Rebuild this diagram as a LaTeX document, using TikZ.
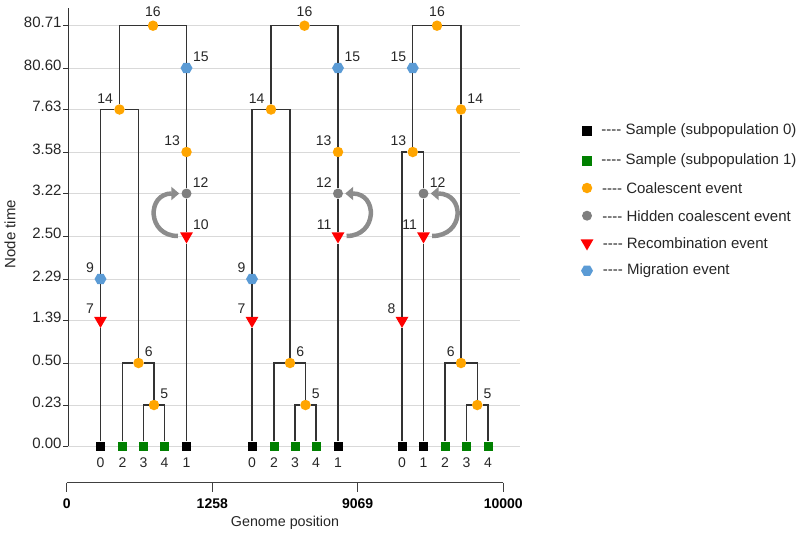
\documentclass[tikz,border=0pt]{standalone}
\usepackage{fontspec}
\setmainfont{Liberation Sans}
\usetikzlibrary{positioning,shapes.geometric,arrows.meta}
\definecolor{coalor}{HTML}{FFA500}
\definecolor{migbl}{HTML}{5B9BD5}
\definecolor{hidgr}{HTML}{7F7F7F}
\definecolor{sampgr}{HTML}{008000}
\definecolor{gridgr}{HTML}{D9D9D9}
\definecolor{arrgr}{HTML}{8C8C8C}
% tree of the first two intervals: prefix, recombination id, its label side, side of label 12
\newcommand{\ltree}[4]{%
\node[samp0, leaf=0] (#1l0) at (100.5,446) {};
\node[samp1, leaf=2] (#1l2) at (122.5,446) {};
\node[samp1, leaf=3] (#1l3) at (143.5,446) {};
\node[samp1, leaf=4] (#1l4) at (164.5,446) {};
\node[samp0, leaf=1] (#1l1) at (186.5,446) {};
\node[coal, tag={above right:5}] (#1n5) at (154,405) {};
\node[coal, tag={above right:6}] (#1n6) at (138.5,363) {};
\node[recomb, tag={above left:7}] (#1n7) at (100.5,320.5) {};
\node[migr, tag={above left:9}] (#1n9) at (100.5,279) {};
\node[recomb, tag={#3:#2}] (#1nr) at (186.5,236) {};
\node[hid, tag={#4:12}] (#1n12) at (186.5,193.5) {};
\node[coal, tag={above left:13}] (#1n13) at (186.5,152) {};
\node[coal, tag={above left:14}] (#1n14) at (119.5,109.5) {};
\node[migr, tag={above right:15}] (#1n15) at (186.5,68) {};
\node[coal, tag={above:16}] (#1n16) at (153,25.7) {};
\draw[edge] (#1l0) -- (#1n7) -- (#1n9) |- (#1n14);
\draw[edge] (#1l2) |- (#1n6);
\draw[edge] (#1l3) |- (#1n5);
\draw[edge] (#1l4) |- (#1n5);
\draw[edge] (#1n5) |- (#1n6);
\draw[edge] (#1n6) |- (#1n14);
\draw[edge] (#1l1) -- (#1nr) -- (#1n12) -- (#1n13) -- (#1n15) |- (#1n16);
\draw[edge] (#1n14) |- (#1n16);
}

\begin{document}
\begin{tikzpicture}[x=1pt, y=-1pt,
  edge/.style={draw=black!80, line width=1.25pt},
  grid/.style={draw=gridgr, line width=0.9pt},
  yaxis/.style={draw=black!80, line width=1pt},
  gaxis/.style={draw=black!75, line width=1.4pt},
  coal/.style={circle, fill=coalor, minimum size=10.5pt, inner sep=0pt},
  hid/.style={circle, fill=hidgr, minimum size=10pt, inner sep=0pt},
  migr/.style={regular polygon, regular polygon sides=6, fill=migbl, minimum size=12pt, inner sep=0pt},
  recomb/.style={regular polygon, regular polygon sides=3, shape border rotate=180, fill=red, minimum size=15pt, inner sep=0pt},
  samp0/.style={rectangle, fill=black, minimum size=9pt, inner sep=0pt},
  samp1/.style={rectangle, fill=sampgr, minimum size=9pt, inner sep=0pt},
  lbl/.style={font=\fontsize{14}{16}\selectfont, inner sep=1pt, text=black!85},
  tag/.style={label={[lbl, label distance=2pt]#1}},
  leaf/.style={label={[lbl, label distance=5.5pt]below:#1}},
  ticklbl/.style={font=\fontsize{15}{18}\selectfont, inner sep=1pt, text=black!85},
  legtxt/.style={font=\fontsize{15}{18}\selectfont, inner sep=1pt, text=black!85, anchor=west},
  hidarr/.style={draw=arrgr, line width=4.5pt, -{Triangle[width=13pt,length=8pt]}, shorten <=4pt, shorten >=2pt}]
\useasboundingbox (0,0) rectangle (800,536);

% time grid
\foreach \y/\t [count=\i] in {446/0.00, 405/0.23, 363/0.50, 320.5/1.39, 279/2.29, 236/2.50, 193.5/3.22, 152/3.58, 109.5/7.63, 68/80.60, 25.7/80.71} {
  \draw[grid] (68,\y) -- (520,\y);
  \draw[yaxis] (63,\y) -- (68,\y);
  \node[ticklbl, anchor=east] (ylab\i) at (62.7,\y-3) {\t};
}
\draw[yaxis] (68,8) -- (68,446);
\node[ticklbl, rotate=90] (ytitle) at (10,234) {Node time};

% trees 1 and 2
\ltree{a}{10}{above right}{above right}
\begin{scope}[xshift=151.5pt]
\ltree{b}{11}{above left}{above left}
\end{scope}

% tree 3
\node[samp0, leaf=0] (cl0) at (402,446) {};
\node[samp0, leaf=1] (cl1) at (423.5,446) {};
\node[samp1, leaf=2] (cl2) at (445,446) {};
\node[samp1, leaf=3] (cl3) at (466.5,446) {};
\node[samp1, leaf=4] (cl4) at (488,446) {};
\node[coal, tag={above right:5}] (cn5) at (477.25,405) {};
\node[coal, tag={above left:6}] (cn6) at (461,363) {};
\node[recomb, tag={above left:8}] (cn8) at (402,320.5) {};
\node[recomb, tag={above left:11}] (cnr) at (423.5,236) {};
\node[hid, tag={above right:12}] (cn12) at (423.5,193.5) {};
\node[coal, tag={above left:13}] (cn13) at (412.75,152) {};
\node[coal, tag={above right:14}] (cn14) at (461,109.5) {};
\node[migr, tag={above left:15}] (cn15) at (412.75,68) {};
\node[coal, tag={above:16}] (cn16) at (437,25.7) {};
\draw[edge] (cl0) -- (cn8) |- (cn13);
\draw[edge] (cl1) -- (cnr) -- (cn12) |- (cn13);
\draw[edge] (cn13) -- (cn15) |- (cn16);
\draw[edge] (cl2) |- (cn6);
\draw[edge] (cl3) |- (cn5);
\draw[edge] (cl4) |- (cn5);
\draw[edge] (cn5) |- (cn6);
\draw[edge] (cn6) -- (cn14) |- (cn16);

% hidden coalescence arrows
\draw[hidarr] (anr.west) to[out=180, in=180, looseness=2.1] (an12.west);
\draw[hidarr] (bnr.east) to[out=0, in=0, looseness=2.1] (bn12.east);
\draw[hidarr] (cnr.east) to[out=0, in=0, looseness=2.2] (cn12.east);

% genome axis
\coordinate (g0) at (66.7,482.7);
\coordinate (g1) at (212.3,482.7);
\coordinate (g2) at (357.7,482.7);
\coordinate (g3) at (503.3,482.7);
\draw[gaxis] (g0) -- (g3);
\foreach \c/\t in {g0/0, g1/1258, g2/9069, g3/10000}
  \draw[gaxis] (\c) -- ++(0,9) node[below=5pt, inner sep=1pt, font=\fontsize{14}{16}\selectfont\bfseries] (t\c) {\t};
\node[ticklbl, font=\fontsize{14.3}{17}\selectfont] (gtitle) at (285,523) {Genome position};

% legend
\node[samp0, minimum size=10pt] (k0) at (587,131) {};
\node[samp1, minimum size=10pt] (k1) at (587,160.7) {};
\node[coal] (k2) at (587,188) {};
\node[hid] (k3) at (587,215.7) {};
\node[recomb] (k4) at (587,243) {};
\node[migr] (k5) at (587,270.7) {};
\node[legtxt, right=8pt of k0] (t0) {-{}-{}-{}- Sample (subpopulation 0)};
\node[legtxt, right=8pt of k1] (t1) {-{}-{}-{}- Sample (subpopulation 1)};
\node[legtxt, right=8.5pt of k2] (t2) {-{}-{}-{}- Coalescent event};
\node[legtxt, right=9pt of k3] (t3) {-{}-{}-{}- Hidden coalescent event};
\node[legtxt, right=10pt of k4] (t4) {-{}-{}-{}- Recombination event};
\node[legtxt, right=8.5pt of k5] (t5) {-{}-{}-{}- Migration event};
\end{tikzpicture}
\end{document}
